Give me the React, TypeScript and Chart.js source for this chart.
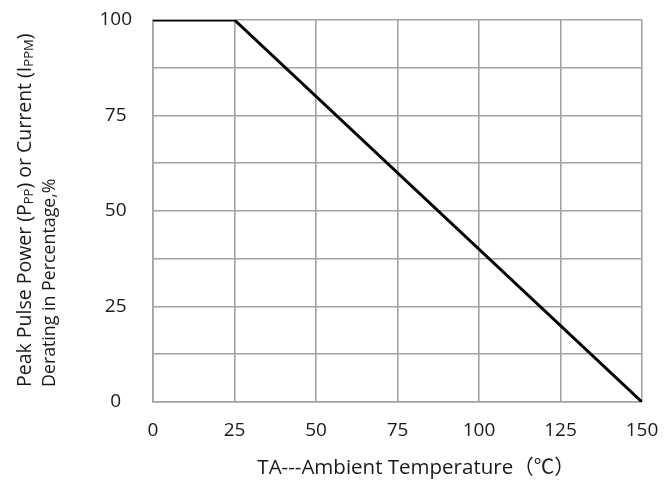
import React, { useEffect, useRef } from "react";
import { Chart, registerables } from "chart.js";

Chart.register(...registerables);

const temperatures = [0, 25, 150];
const deratingPercent = [100, 100, 0];
const xTickLabels = [0, 25, 50, 75, 100, 125, 150];
const yTickLabels = [0, 25, 50, 75, 100];

const xTitle = "TA---Ambient Temperature（℃）";
const yTitleLine1 = [
  { t: "Peak Pulse Power (P", sub: false },
  { t: "PP", sub: true },
  { t: ") or Current (I", sub: false },
  { t: "PPM", sub: true },
  { t: ")", sub: false },
];
const yTitleLine2 = [{ t: "Derating in Percentage,%", sub: false }];

const FONT = "'Open Sans', 'Noto Sans CJK SC', sans-serif";
const TEXT = "#1a1a1a";
const GRID = "#a3a3a3";

function drawSegments(ctx: CanvasRenderingContext2D, segs: { t: string; sub: boolean }[], size: number) {
  let x = 0;
  for (const s of segs) {
    const fs = s.sub ? Math.round(size * 0.65) : size;
    ctx.font = `${fs}px ${FONT}`;
    ctx.fillText(s.t, x, s.sub ? size * 0.22 : 0);
    x += ctx.measureText(s.t).width;
  }
}

const titlesPlugin = {
  id: "titles",
  afterDraw(chart: any) {
    const ctx = chart.ctx as CanvasRenderingContext2D;
    ctx.save();
    ctx.fillStyle = TEXT;
    ctx.textBaseline = "middle";
    ctx.textAlign = "left";
    ctx.font = `20.5px ${FONT}`;
    const w = ctx.measureText(xTitle).width;
    ctx.fillText(xTitle, 416 - w / 2, 468);
    ctx.restore();

    ctx.save();
    ctx.fillStyle = TEXT;
    ctx.textBaseline = "middle";
    ctx.textAlign = "left";
    ctx.translate(25, 387);
    ctx.rotate(-Math.PI / 2);
    drawSegments(ctx, yTitleLine1, 19.5);
    ctx.restore();

    ctx.save();
    ctx.fillStyle = TEXT;
    ctx.textBaseline = "middle";
    ctx.textAlign = "left";
    ctx.translate(50, 387);
    ctx.rotate(-Math.PI / 2);
    drawSegments(ctx, yTitleLine2, 17.8);
    ctx.restore();
  },
};

export default function App() {
  const ref = useRef<HTMLCanvasElement | null>(null);
  useEffect(() => {
    if (!ref.current) return;
    const chart = new Chart(ref.current, {
      type: "line",
      data: {
        datasets: [
          {
            data: temperatures.map((x, i) => ({ x, y: deratingPercent[i] })),
            borderColor: "#000",
            borderWidth: 3,
            pointRadius: 0,
            pointHoverRadius: 0,
            fill: false,
            tension: 0,
          },
        ],
      },
      options: {
        animation: false,
        responsive: false,
        layout: { autoPadding: false, padding: { left: 0, top: 20, right: 22, bottom: 0 } },
        plugins: { legend: { display: false }, tooltip: { enabled: false } },
        scales: {
          x: {
            type: "linear",
            min: xTickLabels[0],
            max: xTickLabels[xTickLabels.length - 1],
            afterFit: (s: any) => {
              s.height = 80;
              s.paddingLeft = 0;
              s.paddingRight = 0;
            },
            afterBuildTicks: (s: any) => {
              s.ticks = xTickLabels.map((v) => ({ value: v }));
            },
            grid: { color: GRID, lineWidth: 1.6, drawTicks: false },
            border: { color: GRID, width: 1.6 },
            ticks: {
              padding: 17,
              color: TEXT,
              font: { family: FONT, size: 19 },
              maxRotation: 0,
            },
          },
          y: {
            min: yTickLabels[0],
            max: yTickLabels[yTickLabels.length - 1],
            afterFit: (s: any) => {
              s.width = 153;
              s.paddingTop = 0;
              s.paddingBottom = 0;
            },
            afterBuildTicks: (s: any) => {
              const t: any[] = [];
              for (let i = 0; i < yTickLabels.length; i++) {
                t.push({ value: yTickLabels[i] });
                if (i < yTickLabels.length - 1) t.push({ value: (yTickLabels[i] + yTickLabels[i + 1]) / 2 });
              }
              s.ticks = t;
            },
            grid: { color: GRID, lineWidth: 1.6, drawTicks: false },
            border: { color: GRID, width: 1.6 },
            ticks: {
              padding: 21,
              crossAlign: "center",
              color: TEXT,
              font: { family: FONT, size: 19 },
              callback: (v: any) => (yTickLabels.includes(Number(v)) ? String(v) : ""),
            },
          },
        },
      },
      plugins: [titlesPlugin],
    });
    return () => chart.destroy();
  }, []);
  return (
    <div style={{ position: "absolute", left: 0, top: 0, width: 664, height: 482, background: "#fff" }}>
      <canvas ref={ref} width={664} height={482} />
    </div>
  );
}
